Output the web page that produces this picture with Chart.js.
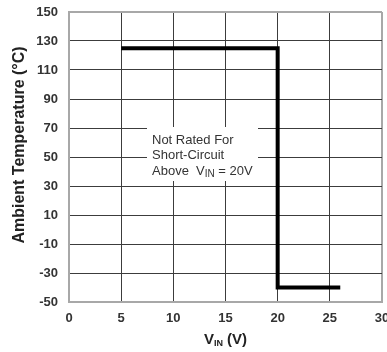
<!DOCTYPE html>
<html>
<head>
<meta charset="utf-8">
<script src="https://cdn.jsdelivr.net/npm/chart.js@4"></script>
<style>
  html, body { margin: 0; padding: 0; background: #fff; }
  #wrap { width: 387px; height: 352px; }
</style>
</head>
<body>
<div id="wrap"><canvas id="myChart"></canvas></div>
<script>
// data
var vin = [5, 20, 20, 26];
var temp = [125, 125, -40, -40];
var xTicks = [0, 5, 10, 15, 20, 25, 30];
var yTicks = [-50, -30, -10, 10, 30, 50, 70, 90, 110, 130, 150];
var yTitle = 'Ambient Temperature (°C)';
var noteLines = ['Not Rated For', 'Short-Circuit', 'Above  V', ' = 20V'];

var ctx = document.getElementById("myChart");
var FONT = 'Arial, "Liberation Sans", sans-serif';

var points = vin.map(function(v, i) { return { x: v, y: temp[i] }; });

function edgeColor(c) {
  var n = c.scale.ticks.length;
  return (c.index === 0 || c.index === n - 1) ? '#a8a8a8' : '#3c3c3c';
}
function edgeWidth(c) {
  var n = c.scale.ticks.length;
  return (c.index === 0 || c.index === n - 1) ? 2 : 1;
}

// note box, axis titles (subscripts need manual drawing)
var extras = {
  id: 'extras',
  afterDraw: function(chart) {
    var c = chart.ctx;
    var xs = chart.scales.x;
    c.save();
    // white box over the grid
    c.fillStyle = '#fff';
    c.fillRect(147, 127, 111, 54);
    c.fillStyle = '#333';
    c.textBaseline = 'middle';
    c.textAlign = 'left';
    c.font = '13px ' + FONT;
    var tx = 152;
    c.fillText(noteLines[0], tx, 140);
    c.fillText(noteLines[1], tx, 155);
    c.fillText(noteLines[2], tx, 171);
    var w = c.measureText(noteLines[2]).width;
    c.font = '10px ' + FONT;
    c.fillText('IN', tx + w, 174);
    var w2 = c.measureText('IN').width;
    c.font = '13px ' + FONT;
    c.fillText(noteLines[3], tx + w + w2, 171);

    // x axis title
    var cx = (chart.chartArea.left + chart.chartArea.right) / 2;
    var ty = 340;
    c.fillStyle = '#222';
    c.font = 'bold 15px ' + FONT;
    var p1 = 'V', p2 = 'IN', p3 = ' (V)';
    var w1 = c.measureText(p1).width, w3 = c.measureText(p3).width;
    c.font = 'bold 9px ' + FONT;
    var wsub = c.measureText(p2).width;
    var x0 = cx - (w1 + wsub + w3) / 2;
    c.font = 'bold 15px ' + FONT;
    c.fillText(p1, x0, ty);
    c.font = 'bold 9px ' + FONT;
    c.fillText(p2, x0 + w1, ty + 4);
    c.font = 'bold 15px ' + FONT;
    c.fillText(p3, x0 + w1 + wsub, ty);

    // y axis title
    c.translate(20, 145);
    c.rotate(-Math.PI / 2);
    c.textAlign = 'center';
    c.font = 'bold 16px ' + FONT;
    c.fillText(yTitle, 0, 0);
    c.restore();
  }
};

var myChart = new Chart(ctx, {
  type: 'scatter',
  data: {
    datasets: [{
      data: points,
      showLine: true,
      borderColor: '#000',
      borderWidth: 4,
      pointRadius: 0,
      fill: false,
      tension: 0
    }]
  },
  options: {
    responsive: true,
    maintainAspectRatio: false,
    animation: false,
    layout: { padding: { top: 12, right: 5, bottom: 0, left: 0 } },
    plugins: { legend: { display: false }, tooltip: { enabled: false } },
    scales: {
      x: {
        type: 'linear',
        min: 0, max: 30,
        afterBuildTicks: function(s) { s.ticks = xTicks.map(function(v) { return { value: v }; }); },
        afterFit: function(s) { s.paddingRight = 0; s.paddingLeft = 0; s.paddingBottom = 0; s.height = 50; },
        grid: { color: edgeColor, lineWidth: edgeWidth, drawTicks: false },
        border: { color: '#a8a8a8', width: 2 },
        ticks: {
          color: '#333',
          padding: 9,
          font: { family: FONT, size: 13, weight: 'bold' }
        }
      },
      y: {
        type: 'linear',
        min: -50, max: 150,
        afterBuildTicks: function(s) { s.ticks = yTicks.map(function(v) { return { value: v }; }); },
        afterFit: function(s) { s.paddingTop = 0; s.paddingBottom = 0; s.width = 69; },
        grid: { color: edgeColor, lineWidth: edgeWidth, drawTicks: false },
        border: { color: '#a8a8a8', width: 2 },
        ticks: {
          color: '#333',
          padding: 11,
          font: { family: FONT, size: 13, weight: 'bold' }
        }
      }
    }
  },
  plugins: [extras]
});
</script>
</body>
</html>
